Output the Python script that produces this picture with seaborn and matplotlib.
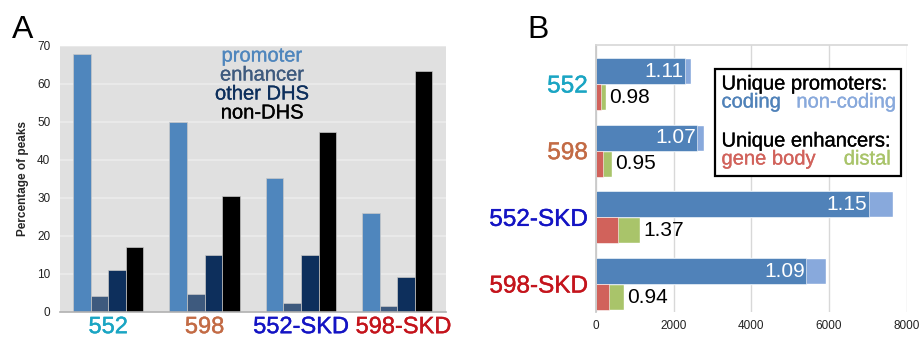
import pandas as pd
import numpy as np
import matplotlib.pyplot as plt
import matplotlib.patches as mpatches
import matplotlib.patheffects as pe
import matplotlib.transforms as mtrans
import seaborn as sns

sns.set_theme(style="white")
plt.rcParams['font.family'] = ['Liberation Sans', 'DejaVu Sans']

# ---- data ----
samples = ['552', '598', '552-SKD', '598-SKD']
sample_colors = ['#1aa5c3', '#c36b45', '#1414c4', '#c4141c']

# panel A: percentage of peaks
categories = ['promoter', 'enhancer', 'other DHS', 'non-DHS']
cat_colors = ['#4f86bd', '#3e5a7e', '#0d2f5c', '#000000']
promoter_pct = [68.0, 50.0, 35.3, 26.0]
enhancer_pct = [4.2, 4.7, 2.3, 1.7]
other_dhs_pct = [11.0, 15.0, 15.0, 9.2]
non_dhs_pct = [17.0, 30.5, 47.5, 63.3]

# panel B: unique peaks
coding = [2290, 2610, 7030, 5415]
non_coding = [148, 172, 627, 498]
gene_body = [130, 190, 566, 335]
distal = [128, 222, 567, 377]
promoter_ratio = ['1.11', '1.07', '1.15', '1.09']
enhancer_ratio = ['0.98', '0.95', '1.37', '0.94']

c_coding, c_noncoding = '#5082b9', '#88a9dc'
c_gene, c_distal = '#d1625b', '#a9c46a'

fig = plt.figure(figsize=(9.19, 3.39), dpi=100)
W, H = 919, 339


def px_axes(l, t, r, b):
    return fig.add_axes([l / W, 1 - b / H, (r - l) / W, (b - t) / H])


def thicken(color, w=0.3):
    # slightly heavier strokes, closer to the reference's rendering
    return [pe.withStroke(linewidth=w, foreground=color)]


# ---- Panel A ----
axA = px_axes(60, 46, 445.5, 312)
dfA = pd.DataFrame({
    'sample': np.repeat(samples, 4),
    'category': categories * 4,
    'pct': np.ravel(np.column_stack([promoter_pct, enhancer_pct, other_dhs_pct, non_dhs_pct])),
})
axA.set_facecolor('#e0e0e0')
axA.set_axisbelow(True)
axA.yaxis.grid(True, color='#ececec', lw=1.2)
sns.barplot(data=dfA, x='sample', y='pct', hue='category', hue_order=categories,
            palette=dict(zip(categories, cat_colors)), width=0.73, gap=0, saturation=1,
            edgecolor='#c8c8c8', linewidth=0.5, legend=False, ax=axA)
axA.set_ylim(0, 70)
axA.set_xlim(-0.5, 3.5)
axA.set_yticks(range(0, 71, 10))
axA.set_xlabel('')
axA.set_ylabel('Percentage of peaks', fontsize=8.5, fontweight='bold', labelpad=6)
axA.tick_params(axis='y', labelsize=8.5, length=0, pad=7, labelcolor='#222222')
axA.tick_params(axis='x', labelsize=17, length=0, pad=3)
for lbl, c in zip(axA.get_xticklabels(), sample_colors):
    lbl.set_color(c)
    lbl.set_path_effects(thicken(c))
last = axA.get_xticklabels()[-1]
last.set_transform(last.get_transform() + mtrans.ScaledTranslation(6 / 100, 0, fig.dpi_scale_trans))
for s in ['top', 'right', 'left']:
    axA.spines[s].set_visible(False)
axA.spines['bottom'].set_color('#b0b0b0')
axA.spines['bottom'].set_linewidth(1.2)

for name, c, yb in zip(categories, cat_colors, [61.5, 80.5, 99.5, 118.5]):
    fig.text(262 / W, 1 - yb / H, name, color=c, fontsize=14.5, ha='center', va='baseline',
             path_effects=thicken(c, 0.2))

# ---- Panel B ----
axB = px_axes(596, 45, 906.7, 311.7)
dfB = pd.DataFrame({
    'sample': samples * 2,
    'feature': ['promoter'] * 4 + ['enhancer'] * 4,
    'total': [a + b for a, b in zip(coding, non_coding)] + [a + b for a, b in zip(gene_body, distal)],
    'first': coding + gene_body,
})
axB.set_axisbelow(True)
axB.xaxis.grid(True, color='#d8d8d8', lw=1)
sns.barplot(data=dfB, y='sample', x='total', hue='feature', hue_order=['promoter', 'enhancer'],
            palette={'promoter': c_noncoding, 'enhancer': c_distal}, orient='h',
            width=0.78, gap=0, saturation=1, legend=False, ax=axB)
sns.barplot(data=dfB, y='sample', x='first', hue='feature', hue_order=['promoter', 'enhancer'],
            palette={'promoter': c_coding, 'enhancer': c_gene}, orient='h',
            width=0.78, gap=0, saturation=1, legend=False, edgecolor='white', linewidth=0.4, ax=axB)
axB.set_xlim(0, 8000)
axB.set_ylim(3.415, -0.585)
axB.set_xticks([0, 2000, 4000, 6000, 8000])
axB.set_xlabel('')
axB.set_ylabel('')
axB.tick_params(axis='x', labelsize=8.5, length=4, color='#d0d0d0', pad=2, labelcolor='#222222')
axB.tick_params(axis='y', labelsize=17.5, length=0, pad=6)
for lbl, c in zip(axB.get_yticklabels(), sample_colors):
    lbl.set_color(c)
    lbl.set_path_effects(thicken(c))
axB.spines['right'].set_visible(False)
axB.spines['bottom'].set_visible(False)
axB.spines['left'].set_color('#c8c8c8')
axB.spines['top'].set_color('#d8d8d8')

for i in range(4):
    axB.text(coding[i] - 40, i - 0.195, promoter_ratio[i], color='white', fontsize=15,
             ha='right', va='center')
    axB.text(gene_body[i] + distal[i] + 90, i + 0.195, enhancer_ratio[i], color='black',
             fontsize=15, ha='left', va='center')

# legend box of panel B
box = mpatches.Rectangle((715 / W, 1 - 176 / H), (901 - 715) / W, (176 - 69) / H,
                         transform=fig.transFigure, facecolor='white', edgecolor='black',
                         lw=1.6, zorder=5)
fig.patches.append(box)
legend_lines = [
    (721.5, 89.5, 'Unique promoters:', 'black', 'left'),
    (721.5, 107.5, 'coding', c_coding, 'left'),
    (896, 107.5, 'non-coding', c_noncoding, 'right'),
    (721.5, 146.5, 'Unique enhancers:', 'black', 'left'),
    (721.5, 164.5, 'gene body', c_gene, 'left'),
    (891, 164.5, 'distal', c_distal, 'right'),
]
for x, y, s, c, ha in legend_lines:
    fig.text(x / W, 1 - y / H, s, fontsize=14.5, color=c, ha=ha, va='baseline', zorder=6,
             path_effects=thicken(c, 0.2))

# panel letters
fig.text(12 / W, 1 - 38 / H, 'A', fontsize=23, color='black', va='baseline', fontweight='light')
fig.text(527 / W, 1 - 38 / H, 'B', fontsize=23, color='black', va='baseline', fontweight='light')

fig.savefig('out.png', dpi=100)
